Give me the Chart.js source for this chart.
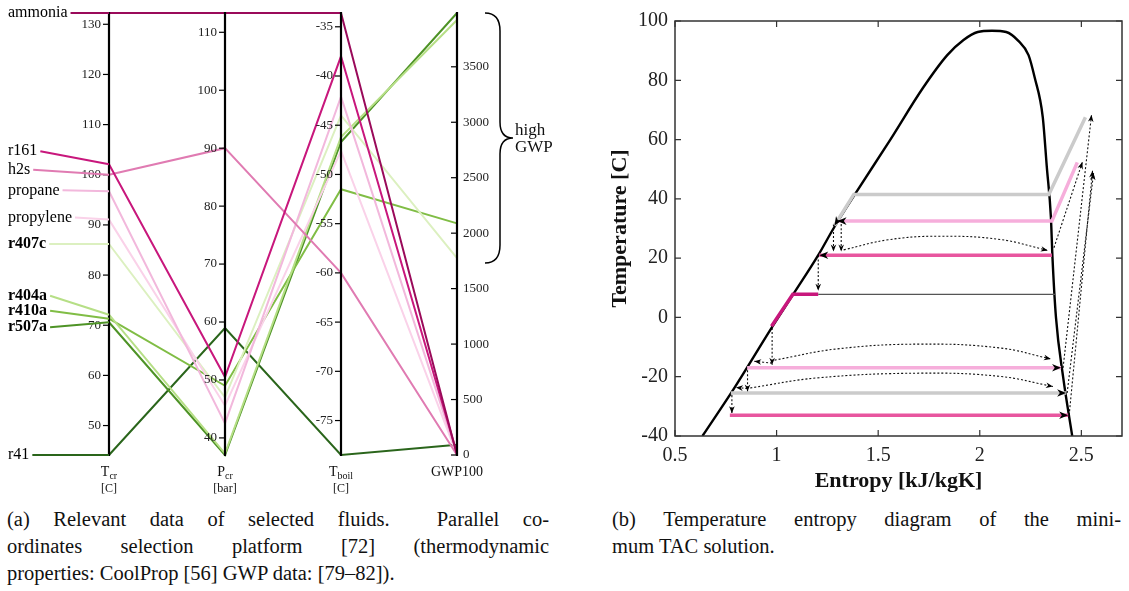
<!DOCTYPE html>
<html>
<head>
<meta charset="utf-8">
<script src="https://cdn.jsdelivr.net/npm/chart.js@4.4.1/dist/chart.umd.min.js"></script>
<style>
  body { margin: 0; background: #fff; width: 1129px; height: 591px; overflow: hidden; position: relative; font-family: "Liberation Serif", "DejaVu Serif", serif; }
  #fluids { position: absolute; left: 0; top: 0; }
  #tsdiag { position: absolute; left: 590px; top: 0; }
  .cap { position: absolute; font-size: 20.5px; line-height: 27px; color: #111; }
  .cap .j { text-align: justify; text-align-last: justify; }
</style>
</head>
<body>
<canvas id="fluids" width="590" height="500"></canvas>
<canvas id="tsdiag" width="539" height="500"></canvas>
<div class="cap" style="left:7px; top:506px; width:542px">
  <div class="j">(a) Relevant data of selected fluids. &nbsp;Parallel co-</div>
  <div class="j">ordinates selection platform [72] (thermodynamic</div>
  <div>properties: CoolProp [56] GWP data: [79–82]).</div>
</div>
<div class="cap" style="left:612px; top:506px; width:509px">
  <div class="j">(b) Temperature entropy diagram of the mini-</div>
  <div>mum TAC solution.</div>
</div>
<script>
// ---------- (a) parallel coordinates of the candidate fluids ----------
const fluids    = ['ammonia', 'r161', 'h2s', 'propane', 'propylene', 'r407c', 'r404a', 'r410a', 'r507a', 'r41'];
const tcr       = [132.25, 102.1, 100.0, 96.7, 91.06, 86.2, 72.1, 71.3, 70.6, 44.13];   // [C]
const pcr       = [113.33, 50.5, 90.0, 42.5, 45.55, 47.0, 37.3, 49.0, 37.05, 58.97];    // [bar]
const tboil     = [-33.6, -38.0, -60.0, -42.1, -47.6, -44.0, -46.2, -51.5, -46.7, -78.5]; // [C]
const gwp100    = [0, 12, 0, 3, 2, 1774, 3922, 2088, 3985, 92];
const boldNames = ['r407c', 'r404a', 'r410a', 'r507a'];

const tcrTicks   = [50, 60, 70, 80, 90, 100, 110, 120, 130];
const pcrTicks   = [40, 50, 60, 70, 80, 90, 100, 110];
const tboilTicks = [-75, -70, -65, -60, -55, -50, -45, -40, -35];
const gwpTicks   = [0, 500, 1000, 1500, 2000, 2500, 3000, 3500];
const highGwpFrom = 1730;

const fluidColors = ['#9a0a5a', '#c8177c', '#e07bb2', '#f2b8dc', '#fad2e9', '#dcf0c0', '#b6df86', '#80bd45', '#4e9326', '#2a651b'];
const labelShift  = [0, -13, -5, -1, -2, 0, -19, -8, 5, 0];   // px, keeps the names apart

const axisKeys   = ['tcr', 'pcr', 'tboil', 'gwp'];
const axisValues = [tcr, pcr, tboil, gwp100];
const axisTicks  = [tcrTicks, pcrTicks, tboilTicks, gwpTicks];
const axisTitles = [['T', 'cr', '[C]'], ['P', 'cr', '[bar]'], ['T', 'boil', '[C]'], ['GWP100', '', '']];
const ranges = axisValues.map(a => ({min: Math.min(...a), max: Math.max(...a)}));

const SERIF = '"Liberation Serif", "DejaVu Serif", serif';

const fluidScales = {
  x: {type: 'linear', min: 0, max: 3, display: false},
  y: {type: 'linear', min: 0, max: 1, display: false}
};
axisKeys.forEach((k, i) => {
  fluidScales[k] = {type: 'linear', display: false, position: 'left', min: ranges[i].min, max: ranges[i].max};
});

const fluidSets = fluids.map((name, i) => ({
  label: name,
  data: axisValues.map((arr, k) => ({x: k, y: (arr[i] - ranges[k].min) / (ranges[k].max - ranges[k].min)})),
  borderColor: fluidColors[i],
  borderWidth: 2,
  pointRadius: 0,
  showLine: true,
  clip: false
}));

const parallelAxes = {
  id: 'parallelAxes',
  afterDatasetsDraw(chart) {
    const {ctx, chartArea, scales} = chart;
    ctx.save();
    // vertical axes with ticks
    axisKeys.forEach((key, k) => {
      const x = scales.x.getPixelForValue(k);
      const sc = scales[key];
      ctx.strokeStyle = '#000';
      ctx.lineWidth = 2.2;
      ctx.beginPath();
      ctx.moveTo(x, chartArea.top - 1);
      ctx.lineTo(x, chartArea.bottom + 1);
      ctx.stroke();
      ctx.lineWidth = 1.2;
      ctx.fillStyle = '#222';
      ctx.font = '13px ' + SERIF;
      ctx.textBaseline = 'middle';
      axisTicks[k].forEach(v => {
        const y = sc.getPixelForValue(v);
        ctx.beginPath();
        ctx.moveTo(x - 6, y);
        ctx.lineTo(x, y);
        ctx.stroke();
        if (key === 'gwp') {
          ctx.textAlign = 'left';
          ctx.fillText(String(v), x + 6, y);
        } else {
          ctx.textAlign = 'right';
          ctx.fillText(String(v), x - 8, y);
        }
      });
      // axis title with subscript
      const [main, sub, unit] = axisTitles[k];
      ctx.fillStyle = '#111';
      ctx.textBaseline = 'alphabetic';
      ctx.textAlign = 'left';
      ctx.font = '14px ' + SERIF;
      const w1 = ctx.measureText(main).width;
      ctx.font = '10px ' + SERIF;
      const w2 = ctx.measureText(sub).width;
      const x0 = x - (w1 + w2) / 2;
      const yb = chartArea.bottom + 21;
      ctx.font = '14px ' + SERIF;
      ctx.fillText(main, x0, yb);
      ctx.font = '10px ' + SERIF;
      ctx.fillText(sub, x0 + w1, yb + 3);
      if (unit) {
        ctx.font = '12px ' + SERIF;
        ctx.textAlign = 'center';
        ctx.fillText(unit, x, yb + 16);
      }
    });

    // fluid names with leader lines to the first axis
    const x0 = scales.x.getPixelForValue(0);
    fluids.forEach((name, i) => {
      const yv = scales.tcr.getPixelForValue(tcr[i]);
      const yl = yv + labelShift[i];
      ctx.font = (boldNames.includes(name) ? 'bold ' : '') + '16px ' + SERIF;
      ctx.textAlign = 'left';
      ctx.textBaseline = 'middle';
      ctx.fillStyle = '#000';
      ctx.fillText(name, 8, yl);
      const w = ctx.measureText(name).width;
      ctx.strokeStyle = fluidColors[i];
      ctx.lineWidth = 2;
      ctx.beginPath();
      ctx.moveTo(8 + w + 3, yl);
      ctx.lineTo(x0, yv);
      ctx.stroke();
    });

    // brace marking the high GWP fluids
    const xg = scales.x.getPixelForValue(3);
    const yTop = scales.gwp.getPixelForValue(ranges[3].max);
    const yBot = scales.gwp.getPixelForValue(highGwpFrom);
    const yMid = (yTop + yBot) / 2;
    const b0 = xg + 28, b1 = xg + 43, b2 = xg + 56;
    ctx.strokeStyle = '#000';
    ctx.lineWidth = 1.5;
    ctx.beginPath();
    ctx.moveTo(b0, yTop);
    ctx.quadraticCurveTo(b1, yTop, b1, yTop + 18);
    ctx.lineTo(b1, yMid - 16);
    ctx.quadraticCurveTo(b1, yMid, b2, yMid);
    ctx.quadraticCurveTo(b1, yMid, b1, yMid + 16);
    ctx.lineTo(b1, yBot - 18);
    ctx.quadraticCurveTo(b1, yBot, b0, yBot);
    ctx.stroke();
    ctx.fillStyle = '#111';
    ctx.font = '17px ' + SERIF;
    ctx.textAlign = 'left';
    ctx.textBaseline = 'middle';
    ctx.fillText('high', b2 + 2, yMid - 8);
    ctx.fillText('GWP', b2 + 2, yMid + 9);
    ctx.restore();
  }
};

new Chart(document.getElementById('fluids'), {
  type: 'scatter',
  data: {datasets: fluidSets},
  options: {
    responsive: false,
    animation: false,
    layout: {padding: {left: 109, right: 133, top: 13, bottom: 45}},
    plugins: {legend: {display: false}, tooltip: {enabled: false}},
    scales: fluidScales
  },
  plugins: [parallelAxes]
});

// ---------- (b) T-s diagram of the cascade ----------
const satS = [0.635, 0.79, 0.98, 1.08, 1.205, 1.28, 1.39, 1.56, 1.72, 1.84, 1.92, 1.99, 2.06, 2.13, 2.19, 2.24, 2.27, 2.31, 2.33, 2.35, 2.358, 2.375, 2.41, 2.455];
const satT = [-40, -24, -3, 7.6, 21, 30, 42, 60, 77.4, 88.5, 93.6, 96.3, 96.7, 96.3, 93.3, 88.5, 81, 67.6, 50.7, 33.9, 20, 0, -20, -40];

// condensing / evaporating paths of the three cycles
const grayHotS  = [2.52, 2.34, 1.38, 1.285];   const grayHotT  = [67.5, 41.5, 41.5, 31];
const lightHotS = [2.48, 2.355, 1.30];         const lightHotT = [52.3, 32.5, 32.5];
const pinkHotS  = [2.355, 1.21];               const pinkHotT  = [21, 21];
const subcoolS  = [0.975, 1.08, 1.205];        const subcoolT  = [-3, 7.8, 7.8];
const sinkS     = [1.205, 2.372];              const sinkT     = [7.8, 7.8];
const lightColdS = [0.855, 2.40];              const lightColdT = [-17, -17];
const grayColdS  = [0.775, 2.425];             const grayColdT  = [-25.5, -25.5];
const pinkColdS  = [0.77, 2.435];              const pinkColdT  = [-33, -33];

// heat and work transfer arrows
const transfers = [
  {s: [1.205, 1.205], t: [21, 9]},
  {s: [1.28, 1.28], t: [31.5, 22.2]},
  {s: [1.318, 1.318], t: [31.5, 22.2]},
  {s: [1.33, 1.55, 1.8, 2.1, 2.335], t: [22.8, 26.2, 27.4, 26.3, 22.6]},
  {s: [0.978, 0.978], t: [-3.5, -16]},
  {s: [0.978, 0.89], t: [-15.4, -14.8]},
  {s: [0.99, 1.3, 1.71, 2.1, 2.35], t: [-14.4, -10.6, -9, -10.3, -14]},
  {s: [0.857, 0.857], t: [-17.8, -25]},
  {s: [0.857, 0.8], t: [-24, -23.6]},
  {s: [0.87, 1.2, 1.71, 2.1, 2.36], t: [-23.8, -20.4, -18.8, -19.9, -23.3]},
  {s: [0.78, 0.78], t: [-26.2, -32.3]},
  {s: [2.41, 2.55], t: [-17, 68.3]},
  {s: [2.43, 2.56], t: [-25.5, 48.7]},
  {s: [2.44, 2.555], t: [-33, 49.5]},
  {s: [2.365, 2.505], t: [23.5, 52.4]}
];

const toXY = (s, t) => s.map((v, i) => ({x: v, y: t[i]}));
const path = (s, t, color, width, extra) => Object.assign({
  data: toXY(s, t), showLine: true, pointRadius: 0, borderColor: color, borderWidth: width
}, extra || {});

const GRAY = '#cbcbcb', LIGHT = '#f6aedb', PINK = '#e8569f', MAGENTA = '#c8177c';

const tsSets = [
  path(grayHotS, grayHotT, GRAY, 3.5, {arrow: true}),
  path(lightHotS, lightHotT, LIGHT, 3.5, {arrow: true}),
  path(pinkHotS, pinkHotT, PINK, 3.5, {arrow: true}),
  path(sinkS, sinkT, '#555', 1.2),
  path(subcoolS, subcoolT, MAGENTA, 3.5),
  path(lightColdS, lightColdT, LIGHT, 3.5, {arrow: true}),
  path(grayColdS, grayColdT, GRAY, 3.5, {arrow: true}),
  path(pinkColdS, pinkColdT, PINK, 3.5, {arrow: true}),
  path(satS, satT, '#000', 2.4, {cubicInterpolationMode: 'monotone'})
].concat(transfers.map(tr => path(tr.s, tr.t, '#111', 1.1, {borderDash: [2, 2], tension: 0.4, arrow: true, small: true})));

const frameTicks = {
  id: 'frameTicks',
  afterDraw(chart) {
    const {ctx, chartArea: a, scales} = chart;
    ctx.save();
    ctx.strokeStyle = '#333';
    ctx.lineWidth = 1.5;
    ctx.strokeRect(a.left, a.top, a.right - a.left, a.bottom - a.top);
    ctx.lineWidth = 1.2;
    scales.x.ticks.forEach(t => {
      const px = scales.x.getPixelForValue(t.value);
      ctx.beginPath();
      ctx.moveTo(px, a.bottom); ctx.lineTo(px, a.bottom - 6);
      ctx.moveTo(px, a.top); ctx.lineTo(px, a.top + 6);
      ctx.stroke();
    });
    scales.y.ticks.forEach(t => {
      const py = scales.y.getPixelForValue(t.value);
      ctx.beginPath();
      ctx.moveTo(a.left, py); ctx.lineTo(a.left + 6, py);
      ctx.moveTo(a.right, py); ctx.lineTo(a.right - 6, py);
      ctx.stroke();
    });
    ctx.restore();
  }
};

const arrowHeads = {
  id: 'arrowHeads',
  afterDatasetsDraw(chart) {
    const ctx = chart.ctx;
    ctx.save();
    ctx.fillStyle = '#000';
    chart.data.datasets.forEach((ds, i) => {
      if (!ds.arrow) return;
      const pts = chart.getDatasetMeta(i).data;
      const end = pts[pts.length - 1];
      const prev = pts[pts.length - 2];
      const ang = Math.atan2(end.y - prev.y, end.x - prev.x);
      const len = ds.small ? 7 : 9, half = ds.small ? 2.8 : 3.8;
      ctx.save();
      ctx.translate(end.x, end.y);
      ctx.rotate(ang);
      ctx.beginPath();
      ctx.moveTo(0, 0);
      ctx.lineTo(-len, -half);
      ctx.lineTo(-len * 0.7, 0);
      ctx.lineTo(-len, half);
      ctx.closePath();
      ctx.fill();
      ctx.restore();
    });
    ctx.restore();
  }
};

const tickFont = {family: SERIF, size: 20};

new Chart(document.getElementById('tsdiag'), {
  type: 'scatter',
  data: {datasets: tsSets},
  options: {
    responsive: false,
    animation: false,
    layout: {padding: {top: 21, right: 7, left: 0, bottom: 0}},
    plugins: {legend: {display: false}, tooltip: {enabled: false}},
    scales: {
      x: {
        type: 'linear', min: 0.5, max: 2.7,
        afterFit: s => { s.height = 64; },
        grid: {display: false, drawTicks: false}, border: {display: false},
        ticks: {stepSize: 0.5, includeBounds: false, padding: 8, color: '#222', font: tickFont, maxRotation: 0,
                callback: v => String(v)},
        title: {display: true, text: 'Entropy [kJ/kgK]', color: '#111',
                font: {family: SERIF, size: 22, weight: 'bold'}, padding: {top: 0, bottom: 5}}
      },
      y: {
        type: 'linear', min: -40, max: 100,
        afterFit: s => { s.width = 85; },
        grid: {display: false, drawTicks: false}, border: {display: false},
        ticks: {stepSize: 20, includeBounds: false, padding: 7, color: '#222', font: tickFont,
                callback: v => String(v)},
        title: {display: true, text: 'Temperature [C]', color: '#111',
                font: {family: SERIF, size: 22, weight: 'bold'}, padding: {top: 17, bottom: 0}}
      }
    }
  },
  plugins: [frameTicks, arrowHeads]
});
</script>
</body>
</html>
